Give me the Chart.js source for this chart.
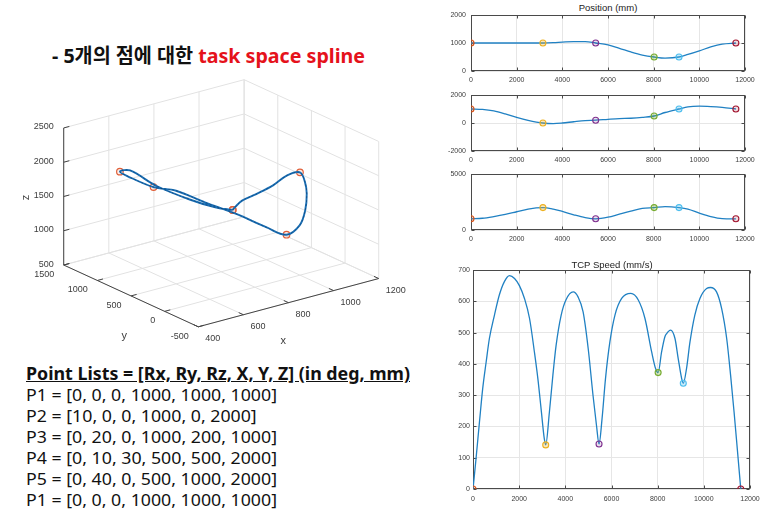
<!DOCTYPE html>
<html>
<head>
<meta charset="utf-8">
<script src="https://cdn.jsdelivr.net/npm/chart.js@4.4.0/dist/chart.umd.min.js"></script>
<style>
html, body { margin:0; padding:0; background:#fff; }
#page { position:relative; width:769px; height:521px; overflow:hidden; background:#fff; }
canvas { position:absolute; }
.txt { position:absolute; white-space:nowrap; line-height:1; transform-origin:left center; color:#111; }
.ptitle { position:absolute; white-space:nowrap; line-height:1; font-family:"Liberation Sans", Arial, sans-serif; font-size:9.5px; color:#222; transform:translateX(-50%); }
</style>
</head>
<body>
<div id="page">
  <div id="title" class="txt" style="left:52px; top:46px; font-family:'Noto Sans','Noto Sans CJK KR',sans-serif; font-weight:bold; font-size:20px;">- 5개의 점에 대한 <span style="color:#e5121b">task space spline</span></div>

  <canvas id="view3d" width="420" height="300" style="left:0; top:60px;"></canvas>

  <div id="listHead" class="txt" style="left:26px; top:364px; font-family:'Noto Sans',sans-serif; font-weight:bold; font-size:18px; text-decoration:underline;">Point Lists = [Rx, Ry, Rz, X, Y, Z] (in deg, mm)</div>
  <div id="list"></div>

  <div class="ptitle" style="left:608px; top:2.5px;">Position (mm)</div>
  <canvas id="plotX" width="349" height="90" style="left:420px; top:0;"></canvas>
  <canvas id="plotY" width="349" height="90" style="left:420px; top:80px;"></canvas>
  <canvas id="plotZ" width="349" height="90" style="left:420px; top:159px;"></canvas>

  <div class="ptitle" style="left:612px; top:259.5px;">TCP Speed (mm/s)</div>
  <canvas id="plotSpeed" width="349" height="271" style="left:420px; top:250px;"></canvas>
</div>

<script>
// way points (Point Lists)
var pointNames = ['P1', 'P2', 'P3', 'P4', 'P5', 'P1'];
var pointRx = [0, 10, 0, 0, 0, 0];
var pointRy = [0, 0, 20, 10, 40, 0];
var pointRz = [0, 0, 0, 30, 0, 0];
var pointX = [1000, 1000, 1000, 500, 500, 1000];
var pointY = [1000, 0, 200, 500, 1000, 1000];
var pointZ = [1000, 2000, 1000, 2000, 2000, 1000];
var pointTime = [0, 3150, 5460, 8020, 9110, 11600];
var pointSpeed = [0, 141, 144, 372, 338, 0];

// spline
var sampleTime = [0, 500, 1000, 1500, 2000, 2500, 3150, 3600, 4000, 4500, 5000, 5460,
                  6000, 6500, 7000, 7500, 8020, 8500, 9110, 9500, 10000, 10500, 11000, 11600];
var sampleX = [1000, 1000, 1000, 1000, 1000, 1000, 1000, 1010, 1030, 1050, 1050, 1000,
               930, 810, 680, 570, 500, 460, 500, 590, 720, 860, 960, 1000];
var sampleY = [1000, 970, 860, 650, 400, 190, 0, -40, 0, 90, 170, 200,
               260, 310, 340, 400, 500, 750, 1000, 1150, 1200, 1170, 1110, 1000];
var sampleZ = [1000, 1050, 1200, 1390, 1630, 1870, 2000, 1870, 1660, 1360, 1110, 1000,
               1140, 1420, 1690, 1930, 2000, 2080, 2000, 1870, 1510, 1200, 1020, 1000];

// TCP speed
var speedTime = [0, 130, 280, 420, 570, 710, 930, 1140, 1360, 1580, 1800, 2010, 2230, 2450, 2660,
                 2810, 2950, 3090, 3150, 3310, 3460, 3600, 3820, 4030, 4340, 4550, 4770, 4990, 5200,
                 5350, 5460, 5590, 5740, 5930, 6150, 6440, 6840, 7160, 7450, 7740, 7910, 8020, 8170,
                 8310, 8390, 8560, 8750, 8890, 9040, 9110, 9250, 9400, 9610, 9830, 10120, 10290,
                 10550, 10770, 10990, 11160, 11310, 11450, 11600];
var speedValue = [0, 96, 214, 321, 406, 481, 556, 620, 663, 682, 673, 650, 609, 545, 438,
                  353, 256, 160, 141, 246, 363, 459, 556, 605, 630, 614, 566, 449, 299,
                  203, 144, 224, 353, 470, 556, 609, 625, 604, 545, 438, 385, 372, 438,
                  486, 497, 508, 481, 417, 353, 338, 385, 470, 556, 609, 641, 644,
                  630, 577, 481, 363, 246, 128, 0];

// tick labels
var timeTicks = [0, 2000, 4000, 6000, 8000, 10000, 12000];
var xPosTicks = [0, 1000, 2000];
var yPosTicks = [-2000, 0, 2000];
var zPosTicks = [0, 5000];
var speedTicks = [0, 100, 200, 300, 400, 500, 600, 700];
var axis3dX = [400, 600, 800, 1000, 1200];
var axis3dY = [-500, 0, 500, 1000, 1500];
var axis3dZ = [500, 1000, 1500, 2000, 2500];

var markColors = ['#D95319', '#EDB120', '#7E2F8E', '#77AC30', '#4DBEEE', '#A2142F'];
var markFill = ['rgba(217,83,25,0.25)', 'rgba(237,177,32,0.3)', 'rgba(126,47,142,0.15)',
                'rgba(119,172,48,0.3)', 'rgba(77,190,238,0.3)', 'rgba(162,20,47,0.15)'];
var lineBlue = '#2081c3';
var gridGray = '#e6e6e6';
var labelGray = '#3c3c3c';

// ---------- text block ----------
var listBox = document.getElementById('list');
pointNames.forEach(function(n, i) {
    var d = document.createElement('div');
    d.className = 'txt';
    d.style.left = '26px';
    d.style.top = (395 + i * 21.1 - 8.5) + 'px';
    d.style.fontFamily = "'Noto Sans', sans-serif";
    d.style.fontSize = '16px';
    d.textContent = n + ' = [' + [pointRx[i], pointRy[i], pointRz[i], pointX[i], pointY[i], pointZ[i]].join(', ') + ']';
    listBox.appendChild(d);
});

function fitWidth(el, target) {
    var w = el.getBoundingClientRect().width;
    var k = target / w;
    el.style.transform = 'scaleX(' + k + ')';
    return k;
}
document.fonts.ready.then(function() {
    fitWidth(document.getElementById('title'), 313);
    fitWidth(document.getElementById('listHead'), 384);
    var rows = listBox.children;
    var k = 251 / rows[0].getBoundingClientRect().width;
    for (var i = 0; i < rows.length; i++) rows[i].style.transform = 'scaleX(' + k + ')';
});

// ---------- 3D view (az -37.5, el 30) ----------
var P0 = {x: 198, y: 331};
function proj(x, y, z) {
    var dx = (x - 400) / 800, dy = (y + 500) / 2000, dz = (z - 500) / 2000;
    return {x: P0.x + dx * 185 - dy * 138, y: P0.y - dx * 50 - dy * 64 - dz * 142};
}

var curve3d = sampleTime.map(function(t, i) { return proj(sampleX[i], sampleY[i], sampleZ[i]); });
var marks3d = pointNames.map(function(n, i) { return proj(pointX[i], pointY[i], pointZ[i]); });

var axes3d = {
    id: 'axes3d',
    beforeDatasetsDraw: function(chart) {
        var ctx = chart.ctx, sx = chart.scales.x, sy = chart.scales.y;
        function px(p) { return [sx.getPixelForValue(p.x), sy.getPixelForValue(p.y)]; }
        function line(a, b) {
            var p = px(proj(a[0], a[1], a[2])), q = px(proj(b[0], b[1], b[2]));
            ctx.moveTo(p[0], p[1]); ctx.lineTo(q[0], q[1]);
        }
        ctx.save();
        ctx.lineWidth = 1;
        ctx.strokeStyle = '#e2e2e2';
        ctx.beginPath();
        axis3dX.forEach(function(x) {
            line([x, -500, 500], [x, 1500, 500]);
            line([x, 1500, 500], [x, 1500, 2500]);
        });
        axis3dY.forEach(function(y) {
            line([400, y, 500], [1200, y, 500]);
            line([1200, y, 500], [1200, y, 2500]);
        });
        axis3dZ.forEach(function(z) {
            line([400, 1500, z], [1200, 1500, z]);
            line([1200, -500, z], [1200, 1500, z]);
        });
        ctx.stroke();

        ctx.strokeStyle = '#444';
        ctx.beginPath();
        line([400, 1500, 500], [400, 1500, 2500]);
        line([400, -500, 500], [400, 1500, 500]);
        line([400, -500, 500], [1200, -500, 500]);
        axis3dX.forEach(function(x) { line([x, -500, 500], [x, -430, 500]); });
        axis3dY.forEach(function(y) { line([400, y, 500], [425, y, 500]); });
        axis3dZ.forEach(function(z) { line([400, 1500, z], [425, 1500, z]); });
        ctx.stroke();

        ctx.fillStyle = labelGray;
        ctx.font = '9px "Liberation Sans", Arial, sans-serif';
        ctx.textBaseline = 'middle';
        ctx.textAlign = 'right';
        axis3dZ.forEach(function(z) {
            var p = px(proj(400, 1500, z));
            ctx.fillText(String(z), p[0] - 10, p[1] - 1);
        });
        axis3dY.forEach(function(y) {
            var p = px(proj(400, y, 500));
            ctx.fillText(String(y), p[0] - 9.5, p[1] + 9.5);
        });
        ctx.textAlign = 'left';
        axis3dX.forEach(function(x) {
            var p = px(proj(x, -500, 500));
            ctx.fillText(String(x), p[0] + 7, p[1] + 12);
        });
        ctx.font = '11px "Liberation Sans", Arial, sans-serif';
        ctx.textAlign = 'center';
        ctx.fillText('x', sx.getPixelForValue(285), sy.getPixelForValue(346));
        ctx.fillText('y', sx.getPixelForValue(122), sy.getPixelForValue(341));
        ctx.translate(sx.getPixelForValue(21), sy.getPixelForValue(197));
        ctx.rotate(-Math.PI / 2);
        ctx.fillText('z', 0, 0);
        ctx.restore();
    }
};

new Chart(document.getElementById('view3d'), {
    type: 'scatter',
    data: {
        datasets: [
            {data: marks3d, showLine: false, pointRadius: 3.3, pointBorderWidth: 1.2,
             pointBorderColor: '#e0603a', pointBackgroundColor: 'rgba(224,96,58,0.12)', order: 2},
            {data: curve3d, showLine: true, borderColor: '#1a6fb5', borderWidth: 1.9,
             pointRadius: 0, tension: 0.35, order: 1},
            {data: curve3d, showLine: true, borderColor: 'rgba(10,40,80,0.6)', borderWidth: 0.7,
             borderDash: [2, 2], pointRadius: 0, tension: 0.35, order: 0}
        ]
    },
    options: {
        responsive: false, animation: false, devicePixelRatio: 1, events: [],
        layout: {padding: 0},
        plugins: {legend: {display: false}, tooltip: {enabled: false}},
        scales: {
            x: {type: 'linear', display: false, min: 0, max: 420},
            y: {type: 'linear', display: false, min: 60, max: 360, reverse: true}
        }
    },
    plugins: [axes3d]
});

// ---------- 2D subplots ----------
var boxPlugin = {
    id: 'box',
    beforeDatasetsDraw: function(chart) {
        var a = chart.chartArea, ctx = chart.ctx;
        var L = Math.round(a.left) + 0.5, R = Math.round(a.right) - 0.5;
        var T = Math.round(a.top) + 0.5, B = Math.round(a.bottom) - 0.5;
        ctx.save();
        ctx.strokeStyle = '#4a4a4a';
        ctx.lineWidth = 1;
        ctx.strokeRect(L, T, R - L, B - T);
        ctx.beginPath();
        chart.scales.x.ticks.forEach(function(t) {
            var p = Math.round(chart.scales.x.getPixelForValue(t.value)) + 0.5;
            ctx.moveTo(p, B); ctx.lineTo(p, B - 3);
            ctx.moveTo(p, T); ctx.lineTo(p, T + 3);
        });
        chart.scales.y.ticks.forEach(function(t) {
            var p = Math.round(chart.scales.y.getPixelForValue(t.value)) + 0.5;
            ctx.moveTo(L, p); ctx.lineTo(L + 3, p);
            ctx.moveTo(R, p); ctx.lineTo(R - 3, p);
        });
        ctx.stroke();
        ctx.restore();
    }
};

function tickSetter(list) {
    return function(scale) { scale.ticks = list.map(function(v) { return {value: v}; }); };
}
function plainLabel(v) { return String(v); }

function subplot(id, times, values, markVals, yMin, yMax, yTicks, lay) {
    var tickFont = {family: '"Liberation Sans", Arial, sans-serif', size: 7};
    return new Chart(document.getElementById(id), {
        type: 'line',
        data: {
            datasets: [
                {data: pointTime.map(function(t, i) { return {x: t, y: markVals[i]}; }),
                 showLine: false, pointRadius: 3, pointBorderWidth: 1.1,
                 pointBorderColor: markColors, pointBackgroundColor: markFill, order: 0},
                {data: times.map(function(t, i) { return {x: t, y: values[i]}; }),
                 borderColor: lineBlue, borderWidth: 1.3, pointRadius: 0,
                 cubicInterpolationMode: 'monotone', fill: false, order: 1}
            ]
        },
        options: {
            responsive: false, animation: false, devicePixelRatio: 1, events: [],
            layout: {padding: {left: 0, top: lay.top, right: lay.right, bottom: 0}},
            plugins: {legend: {display: false}, tooltip: {enabled: false}},
            scales: {
                x: {
                    type: 'linear', min: 0, max: 12000,
                    afterBuildTicks: tickSetter(timeTicks),
                    afterFit: function(s) { s.height = lay.xh; s.paddingLeft = 0; s.paddingRight = 0; },
                    grid: {color: gridGray, drawTicks: false},
                    border: {display: false},
                    ticks: {font: tickFont, color: labelGray, padding: lay.xpad, maxRotation: 0,
                            autoSkip: false, callback: plainLabel}
                },
                y: {
                    type: 'linear', min: yMin, max: yMax,
                    afterBuildTicks: tickSetter(yTicks),
                    afterFit: function(s) { s.width = lay.yw; s.paddingTop = 0; s.paddingBottom = 0; },
                    grid: {color: gridGray, drawTicks: false},
                    border: {display: false},
                    ticks: {font: tickFont, color: labelGray, padding: lay.ypad, autoSkip: false,
                            callback: plainLabel}
                }
            }
        },
        plugins: [boxPlugin]
    });
}

var smallLay = {top: 15, right: 24, yw: 51, xh: 19, xpad: 5, ypad: 5};
subplot('plotX', sampleTime, sampleX, pointX, 0, 2000, xPosTicks, smallLay);
subplot('plotY', sampleTime, sampleY, pointY, -2000, 2000, yPosTicks, smallLay);
subplot('plotZ', sampleTime, sampleZ, pointZ, 0, 5000, zPosTicks, smallLay);
subplot('plotSpeed', speedTime, speedValue, pointSpeed, 0, 700, speedTicks,
        {top: 20, right: 19, yw: 53, xh: 32, xpad: 6, ypad: 3});
</script>
</body>
</html>
